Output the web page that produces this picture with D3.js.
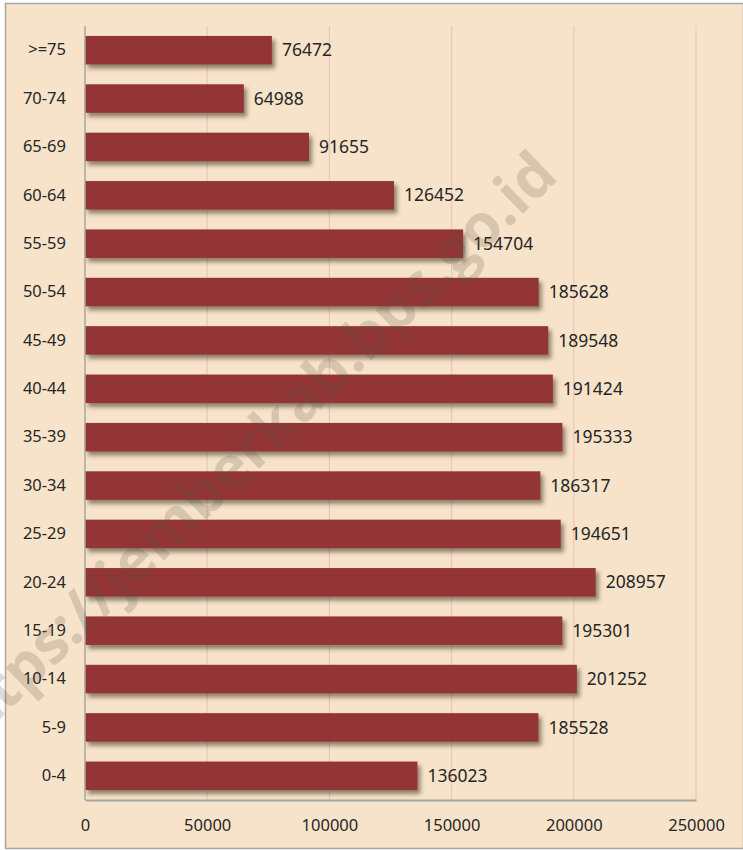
<!DOCTYPE html>
<html>
  <head>
    <meta http-equiv="Content-Type" content="text/html;charset=utf-8">
    <title>Penduduk menurut kelompok umur</title>
    <script type="text/javascript" src="https://d3js.org/d3.v7.min.js"></script>
    <style>
      html, body {
        margin: 0;
        padding: 0;
        background: #fff;
      }
      text {
        font-family: "Noto Sans", "Open Sans", sans-serif;
        font-size: 17.5px;
        fill: #262626;
      }
      .grid line {
        stroke: #e8c6bf;
        stroke-width: 1.2px;
      }
      .watermark {
        font-family: "Open Sans", "Noto Sans", sans-serif;
        font-weight: bold;
        font-size: 60px;
        fill: #5a5048;
        fill-opacity: 0.2;
      }
    </style>
  </head>
  <body>
    <script type="text/javascript">

var groups = ["0-4", "5-9", "10-14", "15-19", "20-24", "25-29", "30-34", "35-39",
              "40-44", "45-49", "50-54", "55-59", "60-64", "65-69", "70-74", ">=75"];
var values = [136023, 185528, 201252, 195301, 208957, 194651, 186317, 195333,
              191424, 189548, 185628, 154704, 126452, 91655, 64988, 76472];
var xTicks = [0, 50000, 100000, 150000, 200000, 250000];

var W = 743, H = 850;
var margin = {left: 85, right: 47, top: 26, bottom: 50};

var svg = d3.select("body").append("svg")
    .attr("width", W)
    .attr("height", H);

var defs = svg.append("defs");
var shadow = defs.append("filter").attr("id", "shadow")
    .attr("x", "-5%").attr("y", "-20%").attr("width", "115%").attr("height", "160%");
shadow.append("feDropShadow")
    .attr("dx", 3).attr("dy", 4).attr("stdDeviation", 2.2)
    .attr("flood-color", "#3a3020").attr("flood-opacity", 0.55);

// frame
svg.append("rect")
    .attr("x", 5.5).attr("y", 3.5)
    .attr("width", W - 5).attr("height", H - 5)
    .attr("fill", "#f7e3c9")
    .attr("stroke", "#a6a6a6")
    .attr("stroke-width", 1.5);

var x = d3.scaleLinear()
    .domain([0, 250000])
    .range([margin.left, W - margin.right]);

// top bar first
var y = d3.scaleBand()
    .domain(groups.slice().reverse())
    .range([margin.top, H - margin.bottom])
    .paddingInner(0.41)
    .paddingOuter(0.205);

// grid
svg.append("g").attr("class", "grid")
  .selectAll("line")
  .data(xTicks.slice(1))
  .enter().append("line")
    .attr("x1", function(d) { return x(d); })
    .attr("x2", function(d) { return x(d); })
    .attr("y1", margin.top)
    .attr("y2", H - margin.bottom);

// bars
svg.append("g")
  .selectAll("rect")
  .data(groups)
  .enter().append("rect")
    .attr("x", x(0))
    .attr("y", function(d) { return y(d); })
    .attr("width", function(d, i) { return x(values[i]) - x(0); })
    .attr("height", y.bandwidth())
    .attr("fill", "#943634")
    .attr("filter", "url(#shadow)");

// axes
var yAxis = svg.append("g")
    .attr("transform", "translate(" + x(0) + ",0)")
    .call(d3.axisLeft(y).tickSize(0).tickPadding(19));
yAxis.select(".domain").attr("stroke", "#a6a6a6").attr("stroke-width", 1.5)
    .attr("d", "M0," + margin.top + "V" + (H - margin.bottom));
yAxis.selectAll("text").style("font-size", "16.5px").attr("fill", "#262626");

var xAxis = svg.append("g")
    .attr("transform", "translate(0," + (H - margin.bottom) + ")")
    .call(d3.axisBottom(x).tickValues(xTicks).tickSize(0).tickPadding(19)
      .tickFormat(d3.format("d")));
xAxis.select(".domain").attr("stroke", "#a6a6a6").attr("stroke-width", 2);
xAxis.selectAll("text").style("font-size", "16.5px").attr("fill", "#262626");

// value labels
svg.append("g")
  .selectAll("text")
  .data(groups)
  .enter().append("text")
    .attr("x", function(d, i) { return x(values[i]) + 10; })
    .attr("y", function(d) { return y(d) + y.bandwidth() / 2; })
    .attr("dy", "0.35em")
    .text(function(d, i) { return values[i]; });

// watermark
svg.append("text")
    .attr("class", "watermark")
    .attr("text-anchor", "end")
    .attr("transform", "translate(560,178) rotate(-44)")
    .text("https://jemberkab.bps.go.id");

    </script>
  </body>
</html>
